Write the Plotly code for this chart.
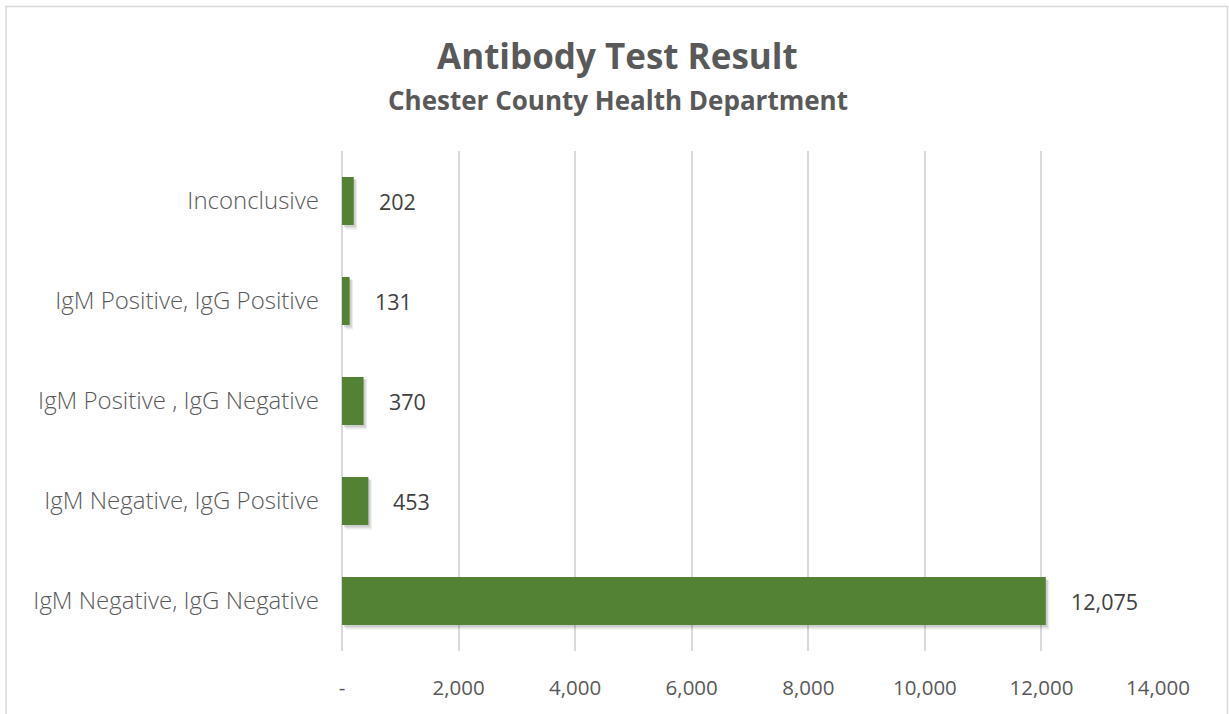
import plotly.graph_objects as go

categories = [
    "IgM Negative, IgG Negative",
    "IgM Negative, IgG Positive",
    "IgM Positive , IgG Negative",
    "IgM Positive, IgG Positive",
    "Inconclusive",
]
values = [12075, 453, 370, 131, 202]
value_labels = ["12,075", "453", "370", "131", "202"]
tick_vals = [0, 2000, 4000, 6000, 8000, 10000, 12000, 14000]
tick_text = ["-", "2,000", "4,000", "6,000", "8,000", "10,000", "12,000", "14,000"]

FONT = "Open Sans, Segoe UI, sans-serif"
GREEN = "#548235"

fig = go.Figure()
# soft shadow (two layers)
fig.add_trace(go.Bar(
    y=categories, x=values, base=60, orientation="h",
    width=0.5, offset=-0.285,
    marker=dict(color="rgba(0,0,0,0.07)", line=dict(width=0)),
    hoverinfo="skip", showlegend=False,
))
fig.add_trace(go.Bar(
    y=categories, x=values, base=35, orientation="h",
    width=0.48, offset=-0.265,
    marker=dict(color="rgba(0,0,0,0.13)", line=dict(width=0)),
    hoverinfo="skip", showlegend=False,
))
fig.add_trace(go.Bar(
    y=categories, x=values, orientation="h",
    width=0.48, offset=-0.24,
    marker=dict(color=GREEN, line=dict(width=0)),
    showlegend=False,
))

for c, v, t in zip(categories, values, value_labels):
    fig.add_annotation(x=v, y=c, text=t, showarrow=False, xanchor="left",
                       xshift=23, font=dict(family=FONT, size=21.5, color="#404040"))

fig.add_annotation(xref="paper", yref="paper", x=0.338, y=1.192, text="<b>Antibody Test Result</b>",
                   showarrow=False, xanchor="center", yanchor="middle",
                   font=dict(family=FONT, size=35, color="#595959"))
fig.add_annotation(xref="paper", yref="paper", x=0.338, y=1.102, text="<b>Chester County Health Department</b>",
                   showarrow=False, xanchor="center", yanchor="middle",
                   font=dict(family=FONT, size=26, color="#595959"))

# chart border
fig.add_shape(type="rect", xref="paper", yref="paper",
              x0=-0.4118, x1=1.0852, y0=-0.15, y1=1.289,
              line=dict(color="#d9d9d9", width=1.5), fillcolor="rgba(0,0,0,0)", layer="below")

fig.update_layout(
    width=1229, height=714,
    margin=dict(l=342, r=71, t=151, b=63),
    paper_bgcolor="white", plot_bgcolor="white",
    barmode="overlay",
    font=dict(family=FONT, size=20, color="#595959"),
    xaxis=dict(range=[0, 14000], tickvals=tick_vals, ticktext=tick_text,
               showgrid=True, gridcolor="#d9d9d9", gridwidth=1.5,
               zeroline=True, zerolinecolor="#d9d9d9", zerolinewidth=1.5,
               showline=False, ticks="", ticklabelstandoff=22,
               tickfont=dict(family=FONT, size=20.5, color="#595959"),
               fixedrange=True),
    yaxis=dict(categoryorder="array", categoryarray=categories,
               showgrid=False, zeroline=False, showline=False, ticks="",
               ticklabelstandoff=22,
               tickfont=dict(family=FONT, size=24, color="#595959", weight=300),
               fixedrange=True),
)

fig.write_html("out.html", config={"displayModeBar": False},
               post_script="document.body.style.margin='0px';")
